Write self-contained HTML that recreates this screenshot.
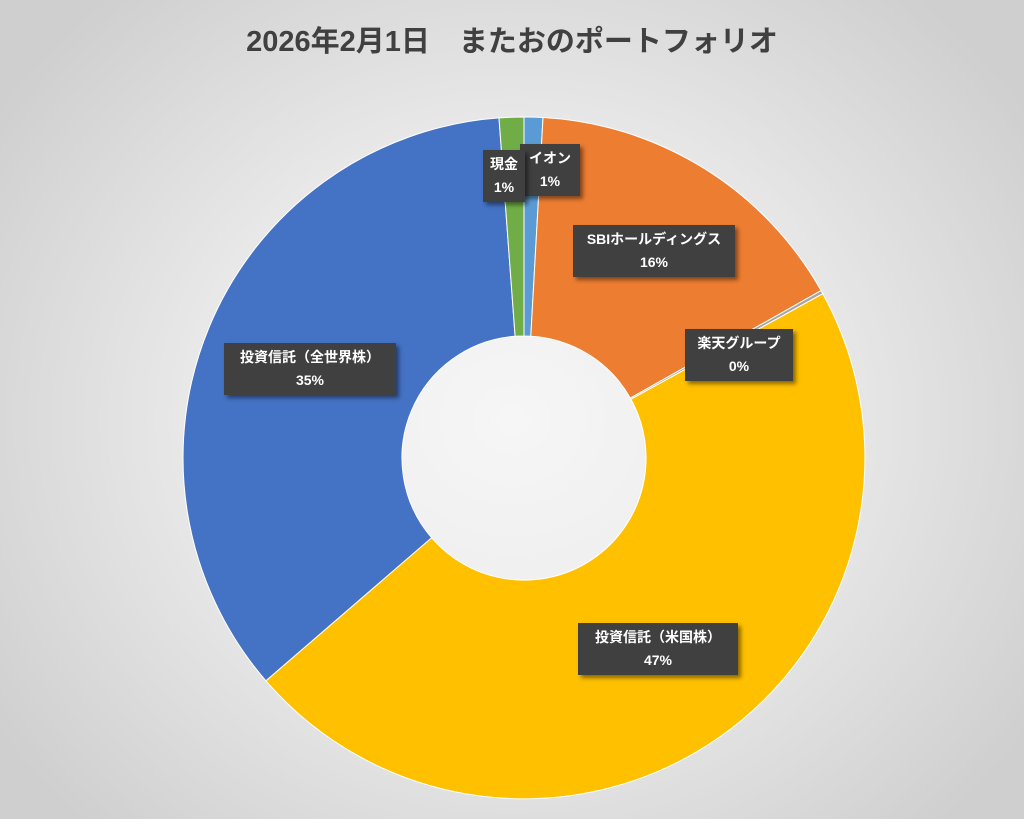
<!DOCTYPE html>
<html><head><meta charset="utf-8"><style>
html,body{margin:0;padding:0}
body{width:1024px;height:819px;overflow:hidden;background:radial-gradient(ellipse 620px 560px at 512px 420px,#f6f6f6 0%,#ececec 45%,#cfcfcf 100%);font-family:"Liberation Sans","Noto Sans CJK JP",sans-serif;position:relative}
.t{position:absolute;top:18px;left:0;width:1024px;text-align:center;font-size:29px;font-weight:bold;color:#404040}
.l{position:absolute;background:#404040;color:#fff;font-weight:bold;font-size:14px;text-align:center;line-height:23px;padding-top:3px;box-sizing:border-box;height:52px;box-shadow:3px 3px 4px rgba(0,0,0,.45)}
</style></head><body>
<div class="t">2026年2月1日　またおのポートフォリオ</div>
<svg width="1024" height="819" style="position:absolute;left:0;top:0">
<g stroke="#fff" stroke-width="1">
<path fill="#5b9bd5" d="M524,117 A341,341 0 0 1 543,117.5 L530.8,336.2 A122,122 0 0 0 524,336Z"/>
<path fill="#ed7d31" d="M543,117.5 A341,341 0 0 1 821.1,290.6 L630.3,398.1 A122,122 0 0 0 530.8,336.2Z"/>
<path fill="#a5a5a5" d="M821.1,290.6 A341,341 0 0 1 822.8,293.7 L630.9,399.2 A122,122 0 0 0 630.3,398.1Z"/>
<path fill="#ffc000" d="M822.8,293.7 A341,341 0 0 1 265.9,680.8 L431.6,537.7 A122,122 0 0 0 630.9,399.2Z"/>
<path fill="#4472c4" d="M265.9,680.8 A341,341 0 0 1 499,117.9 L515.1,336.3 A122,122 0 0 0 431.6,537.7Z"/>
<path fill="#70ad47" d="M499,117.9 A341,341 0 0 1 524,117 L524,336 A122,122 0 0 0 515.1,336.3Z"/>
</g>
</svg>
<div class="l" style="left:520px;top:144px;width:60px">イオン<br>1%</div>
<div class="l" style="left:483px;top:150px;width:42px">現金<br>1%</div>
<div class="l" style="left:573px;top:225px;width:162px">SBIホールディングス<br>16%</div>
<div class="l" style="left:685px;top:329px;width:108px">楽天グループ<br>0%</div>
<div class="l" style="left:224px;top:343px;width:172px">投資信託（全世界株）<br>35%</div>
<div class="l" style="left:578px;top:623px;width:160px">投資信託（米国株）<br>47%</div>
</body></html>
